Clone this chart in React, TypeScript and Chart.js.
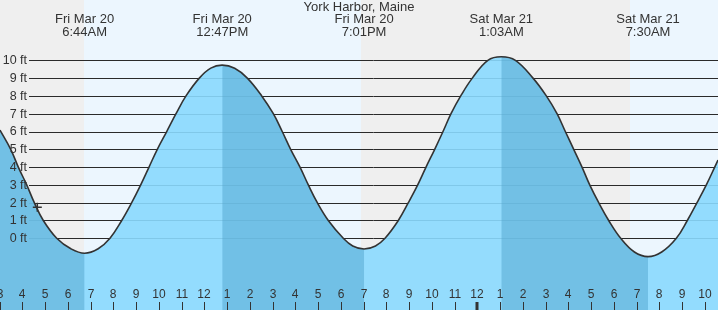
import React, { useEffect, useRef } from 'react';
import { Chart, registerables } from 'chart.js';

Chart.register(...registerables);

// ---- data (hours counted from Fri Mar 20 00:00, heights in ft) ----
const tideHours = [
  3.015, 3.486, 3.82, 4.189, 4.523, 4.919, 5.508, 6.13, 6.733, 7.33, 7.85, 8.365, 8.804, 9.2,
  9.565, 9.93, 10.343, 10.752, 11.191, 11.776, 12.28, 12.783, 13.33, 13.886, 14.519, 15.029,
  15.42, 15.79, 16.202, 16.567, 16.963, 17.446, 18.105, 18.52, 19.017, 19.52, 19.939, 20.523,
  20.963, 21.376, 21.741, 22.123, 22.488, 22.84, 23.266, 23.776, 24.46, 25.05, 25.67, 26.444,
  27.029, 27.499, 27.864, 28.233, 28.598, 28.936, 29.332, 29.771, 30.299, 30.9, 31.5, 32.1,
  32.743, 33.226, 33.653, 34.062, 34.431, 34.575,
];
const tideFeet = [
  6.08, 5, 4, 3, 2, 1, 0, -0.59, -0.84, -0.59, 0, 1, 2, 3,
  4, 5, 6, 7, 8, 9, 9.56, 9.73, 9.55, 9, 8, 7,
  6, 5, 4, 3, 2, 1, 0, -0.43, -0.6, -0.43, 0, 1,
  2, 3, 4, 5, 6, 7, 8, 9, 10, 10.2, 10, 9,
  8, 7, 6, 5, 4, 3, 2, 1, 0, -0.77, -1.03, -0.77,
  0, 1, 2, 3, 4, 4.4,
];

const extremeHours = [6.733, 12.783, 19.017, 25.05, 31.5];
const extremeDays = ['Fri Mar 20', 'Fri Mar 20', 'Fri Mar 20', 'Sat Mar 21', 'Sat Mar 21'];
const extremeTimes = ['6:44AM', '12:47PM', '7:01PM', '1:03AM', '7:30AM'];

const nightStartHours = [0, 18.88];
const nightEndHours = [6.7, 30.7];

const hourTicks = [
  3, 4, 5, 6, 7, 8, 9, 10, 11, 12, 13, 14, 15, 16, 17, 18, 19, 20, 21, 22, 23, 24,
  25, 26, 27, 28, 29, 30, 31, 32, 33, 34,
];
const hourLabels = [
  '3', '4', '5', '6', '7', '8', '9', '10', '11', '12', '1', '2', '3', '4', '5', '6', '7', '8',
  '9', '10', '11', '12', '1', '2', '3', '4', '5', '6', '7', '8', '9', '10',
];
const midnightHours = [24];

const feetTicks = [0, 1, 2, 3, 4, 5, 6, 7, 8, 9, 10];
const feetLabels = ['0 ft', '1 ft', '2 ft', '3 ft', '4 ft', '5 ft', '6 ft', '7 ft', '8 ft', '9 ft', '10 ft'];

const markerHours = [4.655];
const markerFeet = [1.75];

const titleText = 'York Harbor, Maine';

const X_MIN = 3.015;
const X_MAX = 34.575;
const Y_MIN = -4.03;
const Y_MAX = 13.39;

// ---- styles ----
const DAY_BG = '#ecf6fe';
const NIGHT_BG = '#efefef';
const RISE_FILL = 'rgba(138,217,254,0.9)';
const FALL_OVERLAY = 'rgba(80,164,206,0.5)';
const NO_FILL = 'rgba(0,0,0,0)';
const TEXT = '#333333';
const FONT = '"Liberation Sans", Arial, sans-serif';

const decorPlugin = {
  id: 'tideDecor',
  beforeDraw(chart: any) {
    const { ctx, chartArea, scales } = chart;
    const xs = scales.x;
    ctx.save();
    ctx.fillStyle = DAY_BG;
    ctx.fillRect(chartArea.left, chartArea.top, chartArea.right - chartArea.left, chartArea.bottom - chartArea.top);
    ctx.fillStyle = NIGHT_BG;
    nightStartHours.forEach((s, i) => {
      const a = Math.max(chartArea.left, Math.round(xs.getPixelForValue(s)));
      const b = Math.min(chartArea.right, Math.round(xs.getPixelForValue(nightEndHours[i])));
      if (b > a) ctx.fillRect(a, chartArea.top, b - a, chartArea.bottom - chartArea.top);
    });
    ctx.restore();
  },
  beforeDatasetsDraw(chart: any) {
    const { ctx, chartArea, scales } = chart;
    const ys = scales.y;
    ctx.save();
    ctx.strokeStyle = '#2a2a2a';
    ctx.lineWidth = 1;
    feetTicks.forEach((v) => {
      const py = Math.round(ys.getPixelForValue(v)) + 0.5;
      ctx.beginPath();
      ctx.moveTo(chartArea.left + 29, py);
      ctx.lineTo(chartArea.right, py);
      ctx.stroke();
    });
    ctx.restore();
  },
  afterDatasetsDraw(chart: any) {
    const { ctx, chartArea, scales, width } = chart;
    const xs = scales.x;
    const ys = scales.y;
    ctx.save();
    ctx.fillStyle = TEXT;
    ctx.textBaseline = 'middle';

    // y labels
    ctx.font = `12.5px ${FONT}`;
    ctx.textAlign = 'right';
    feetTicks.forEach((v, i) => {
      ctx.fillText(feetLabels[i], chartArea.left + 27, ys.getPixelForValue(v) + 0.5);
    });

    // title and extreme labels
    ctx.font = `13px ${FONT}`;
    ctx.textAlign = 'center';
    ctx.fillText(titleText, width / 2, 7.5);
    extremeHours.forEach((h, i) => {
      const px = xs.getPixelForValue(h);
      ctx.fillText(extremeDays[i], px, 19.5);
      ctx.fillText(extremeTimes[i], px, 32);
    });

    // hour labels and ticks
    ctx.font = `12px ${FONT}`;
    ctx.strokeStyle = TEXT;
    hourTicks.forEach((h, i) => {
      const px = Math.round(xs.getPixelForValue(h));
      ctx.fillText(hourLabels[i], px, chartArea.bottom - 15);
      const thick = midnightHours.includes(h);
      ctx.lineWidth = thick ? 3 : 1;
      ctx.beginPath();
      ctx.moveTo(thick ? px : px + 0.5, chartArea.bottom - 8);
      ctx.lineTo(thick ? px : px + 0.5, chartArea.bottom);
      ctx.stroke();
    });
    ctx.restore();
  },
};

export default function App() {
  const canvasRef = useRef<HTMLCanvasElement | null>(null);

  useEffect(() => {
    if (!canvasRef.current) return;
    const tidePoints = () => tideHours.map((h, i) => ({ x: h, y: tideFeet[i] }));
    const markerPoints = markerHours.map((h, i) => ({ x: h, y: markerFeet[i] }));
    const chart = new Chart(canvasRef.current, {
      type: 'line',
      data: {
        datasets: [
          {
            label: 'now',
            data: markerPoints,
            showLine: false,
            pointStyle: 'cross',
            pointRadius: 4.5,
            pointBorderWidth: 1.5,
            pointBorderColor: '#333333',
            pointBackgroundColor: '#333333',
            fill: false,
          },
          {
            label: 'tide',
            data: tidePoints(),
            borderColor: '#333333',
            borderWidth: 1.6,
            pointRadius: 0,
            tension: 0.4,
            fill: false,
          },
          {
            label: 'falling',
            data: tidePoints(),
            borderWidth: 0,
            borderColor: NO_FILL,
            pointRadius: 0,
            tension: 0.4,
            fill: 'start',
            backgroundColor: NO_FILL,
            segment: {
              backgroundColor: (c: any) => (c.p1.parsed.y < c.p0.parsed.y ? FALL_OVERLAY : NO_FILL),
            },
          },
          {
            label: 'water',
            data: tidePoints(),
            borderWidth: 0,
            borderColor: NO_FILL,
            pointRadius: 0,
            tension: 0.4,
            fill: 'start',
            backgroundColor: RISE_FILL,
          },
        ],
      },
      options: {
        responsive: false,
        animation: false,
        devicePixelRatio: 1,
        layout: { padding: 0, autoPadding: false },
        plugins: {
          legend: { display: false },
          tooltip: { enabled: false },
          title: { display: false },
        },
        scales: {
          x: { type: 'linear', min: X_MIN, max: X_MAX, display: false },
          y: { type: 'linear', min: Y_MIN, max: Y_MAX, display: false },
        },
      },
      plugins: [decorPlugin],
    } as any);
    return () => chart.destroy();
  }, []);

  return (
    <div style={{ position: 'fixed', left: 0, top: 0, width: 718, height: 310 }}>
      <canvas ref={canvasRef} width={718} height={310} style={{ display: 'block', width: 718, height: 310 }} />
    </div>
  );
}
